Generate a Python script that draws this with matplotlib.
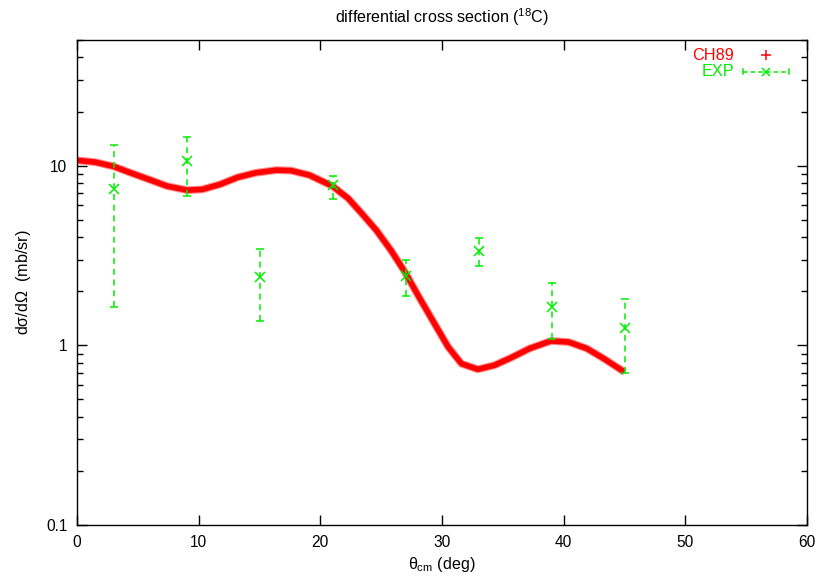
import matplotlib
matplotlib.use("Agg")
import matplotlib.pyplot as plt
from matplotlib.ticker import FixedLocator, LogLocator, NullFormatter, FixedFormatter

plt.rcParams['font.family'] = ['Liberation Sans', 'DejaVu Sans']
plt.rcParams['mathtext.fontset'] = 'custom'
plt.rcParams['mathtext.rm'] = 'Liberation Sans'
plt.rcParams['mathtext.it'] = 'Liberation Sans'

# CH89 optical-model prediction
ch89_theta = [0.0, 1.5, 3.0, 4.4, 5.9, 7.4, 9.05, 10.3, 11.75, 13.2, 14.7, 16.4, 17.6,
              19.1, 21.0, 22.3, 23.4, 24.6, 25.8, 26.95, 28.1, 29.3, 30.5, 31.6, 32.95,
              34.3, 35.7, 37.2, 38.95, 40.4, 41.9, 43.3, 45.0]
ch89_sigma = [10.7, 10.45, 9.9, 9.12, 8.38, 7.69, 7.3, 7.37, 7.86, 8.6, 9.12, 9.44, 9.38,
              8.85, 7.69, 6.56, 5.42, 4.37, 3.38, 2.56, 1.86, 1.35, 0.98, 0.79, 0.735,
              0.774, 0.854, 0.96, 1.057, 1.043, 0.96, 0.843, 0.71]

# measured cross sections with lower / upper error limits
exp_theta = [3, 9, 15, 21, 27, 33, 39, 45]
exp_sigma = [7.4, 10.6, 2.39, 7.8, 2.42, 3.35, 1.63, 1.25]
exp_low = [1.63, 6.76, 1.36, 6.5, 1.87, 2.76, 1.08, 0.70]
exp_high = [13.0, 14.4, 3.43, 8.7, 3.0, 3.98, 2.21, 1.80]

RED = '#ff0000'
GREEN = '#00ee00'

fig = plt.figure(figsize=(8.19, 5.78), dpi=100)
ax = fig.add_axes([77 / 819, 53 / 578, 730 / 819, 485 / 578])

ax.plot(ch89_theta, ch89_sigma, color=RED, lw=5.6, alpha=0.45,
        solid_capstyle='butt', solid_joinstyle='round', zorder=2)
ax.plot(ch89_theta, ch89_sigma, color=RED, lw=4.0, solid_capstyle='butt',
        solid_joinstyle='round', zorder=2)

yerr = [[s - lo for s, lo in zip(exp_sigma, exp_low)],
        [hi - s for s, hi in zip(exp_sigma, exp_high)]]
eb = ax.errorbar(exp_theta, exp_sigma, yerr=yerr, fmt='x', color=GREEN, ms=7,
                 mew=1.1, ecolor=GREEN, elinewidth=1.1, capsize=3, capthick=1.1,
                 zorder=3)
for lc in eb[2]:
    lc.set_linestyle((0, (4, 3)))

ax.set_xlim(0, 60)
ax.set_yscale('log')
ax.set_ylim(0.1, 50)
ax.xaxis.set_major_locator(FixedLocator([0, 10, 20, 30, 40, 50, 60]))
ax.yaxis.set_major_locator(FixedLocator([0.1, 1, 10]))
ax.yaxis.set_major_formatter(FixedFormatter(['0.1', '1', '10']))
ax.yaxis.set_minor_locator(LogLocator(base=10, subs=range(2, 10)))
ax.yaxis.set_minor_formatter(NullFormatter())
ax.tick_params(which='both', direction='in', top=True, right=True, labelsize=11.2,
               width=1.0)
ax.tick_params(which='major', length=7, pad=7)
ax.tick_params(which='minor', length=4)
for sp in ax.spines.values():
    sp.set_linewidth(1.0)

ax.set_title('differential cross section ($^{18}$C)', fontsize=11.6, pad=12)
ax.set_xlabel(r'$\theta_{\rm cm}$ (deg)', fontsize=11.6, labelpad=4)
ax.set_ylabel(r'd$\sigma$/d$\Omega$  (mb/sr)', fontsize=11.6, labelpad=9)

# key in the upper right corner: right-aligned coloured labels with samples
tr = ax.transAxes
ax.text(0.900, 0.969, 'CH89', color=RED, fontsize=11.7, ha='right', va='center',
        transform=tr)
ax.plot([0.944], [0.969], marker='+', color=RED, ms=7, mew=1.1, transform=tr,
        clip_on=False)
ax.text(0.900, 0.935, 'EXP', color=GREEN, fontsize=11.7, ha='right', va='center',
        transform=tr)
ax.plot([0.912, 0.975], [0.935, 0.935], color=GREEN, lw=1.1, ls=(0, (3, 2)),
        transform=tr, clip_on=False)
ax.plot([0.944], [0.935], marker='x', color=GREEN, ms=6, mew=1.1, transform=tr,
        clip_on=False)
for xe in (0.912, 0.975):
    ax.plot([xe, xe], [0.929, 0.941], color=GREEN, lw=1.1, transform=tr,
            clip_on=False)

fig.savefig('out.png', dpi=100)
